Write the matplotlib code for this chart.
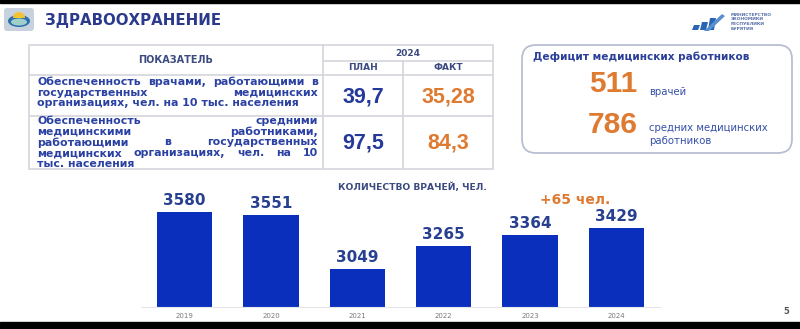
import numpy as np
import matplotlib
matplotlib.use("Agg")
import matplotlib.pyplot as plt
from matplotlib.patches import Rectangle, FancyBboxPatch, Ellipse, Wedge, Polygon

# --- data ---
years = ['2019', '2020', '2021', '2022', '2023', '2024']
doctors = [3580, 3551, 3049, 3265, 3364, 3429]

plan_2024 = [39.7, 97.5]
fact_2024 = [35.28, 84.3]

deficit_values = [511, 786]
deficit_labels = [['врачей'], ['средних медицинских', 'работников']]

row1_lines = ['Обеспеченность врачами, работающими в',
              'государственных медицинских',
              'организациях, чел. на 10 тыс. населения']
row2_lines = ['Обеспеченность средними',
              'медицинскими работниками,',
              'работающими в государственных',
              'медицинских организациях, чел. на 10',
              'тыс. населения']

NAVY = '#24399a'
BAR = '#0b2fbd'
ORANGE = '#df7a31'
GRID = '#d3d6dc'
HEAD = '#3b4a80'

fig = plt.figure(figsize=(8, 3.29), dpi=100, facecolor='white')
ax = fig.add_axes([0, 0, 1, 1])
ax.set_xlim(0, 800); ax.set_ylim(329, 0); ax.axis('off')
r = fig.canvas.get_renderer()

def fmt(v):
	return ('%g' % v).replace('.', ',')

def justified(lines, x0, x1, y0, dy, **kw):
	# spread words over the full line width, last line left aligned
	for i, line in enumerate(lines):
		y = y0 + i * dy
		words = line.split()
		if i == len(lines) - 1 or len(words) == 1:
			ax.text(x0, y, line, ha='left', va='center', **kw)
			continue
		txts = [ax.text(0, y, w, ha='left', va='center', **kw) for w in words]
		widths = [t.get_window_extent(renderer=r).width for t in txts]
		gap = (x1 - x0 - sum(widths)) / (len(words) - 1)
		x = x0
		for t, w in zip(txts, widths):
			t.set_x(x); x += w + gap

# black bands of the screen capture
ax.add_patch(Rectangle((0, 0), 800, 2.5, color='black'))
ax.add_patch(Rectangle((0, 322), 800, 7, color='black'))

# emblem + heading
ax.add_patch(FancyBboxPatch((4, 8), 30, 23, boxstyle='round,pad=0,rounding_size=3', fc='#c8d2de', ec='none'))
ax.add_patch(Ellipse((19, 21), 22, 12, fc='#2f6fb0', ec='none'))
ax.add_patch(Ellipse((19, 22), 16, 7, fc='#9fd0c8', ec='none'))
ax.add_patch(Wedge((19, 18), 6, 180, 360, fc='#f2c230', ec='none'))
ax.text(45, 20, 'ЗДРАВООХРАНЕНИЕ', fontsize=10.8, fontweight='bold', color='#2b3a8c', ha='left', va='center')

# ministry logo
for px, h in [(692, 5), (700, 8), (708, 12)]:
	ax.add_patch(Polygon([[px, 30], [px + 6, 30], [px + 8, 30 - h], [px + 2, 30 - h]], fc='#2a64b4', ec='none'))
ax.add_patch(Polygon([[704, 31], [722, 14], [725, 16], [709, 31]], fc='#5a8fd0', ec='none'))
for i, w in enumerate(['МИНИСТЕРСТВО', 'ЭКОНОМИКИ', 'РЕСПУБЛИКИ', 'БУРЯТИЯ']):
	ax.text(731, 15 + i * 4.5, w, fontsize=3.2, fontweight='bold', color='#5570a8', ha='left', va='center')

# table grid
tx0, tx1, tx2, tx3 = 29, 323, 403, 493
ty0, ty1, ty2, ty3, ty4 = 45, 61, 75, 116, 169
ax.add_patch(Rectangle((tx0, ty0), tx3 - tx0, ty4 - ty0, fc='none', ec=GRID, lw=1.2))
ax.plot([tx1, tx1], [ty0, ty4], color=GRID, lw=1.2)
ax.plot([tx2, tx2], [ty1, ty4], color=GRID, lw=1.2)
ax.plot([tx1, tx3], [ty1, ty1], color=GRID, lw=1.2)
for yy in (ty2, ty3):
	ax.plot([tx0, tx3], [yy, yy], color=GRID, lw=1.2)

ax.text((tx0 + tx1) / 2, 60, 'ПОКАЗАТЕЛЬ', fontsize=7, fontweight='bold', color=HEAD, ha='center', va='center')
ax.text((tx1 + tx3) / 2, 53, '2024', fontsize=6.5, fontweight='bold', color=HEAD, ha='center', va='center')
ax.text((tx1 + tx2) / 2, 68, 'ПЛАН', fontsize=6.5, fontweight='bold', color=HEAD, ha='center', va='center')
ax.text((tx2 + tx3) / 2, 68, 'ФАКТ', fontsize=6.5, fontweight='bold', color=HEAD, ha='center', va='center')

txt_kw = dict(fontsize=7.9, fontweight='bold', color='#2a41a3')
justified(row1_lines, 37, 318, 82, 10.5, **txt_kw)
justified(row2_lines, 37, 318, 121, 10.7, **txt_kw)

for i, yc in enumerate([(ty2 + ty3) / 2 + 1, (ty3 + ty4) / 2]):
	ax.text((tx1 + tx2) / 2, yc, fmt(plan_2024[i]), fontsize=15.5, fontweight='bold',
		family='Liberation Sans', color=NAVY, ha='center', va='center')
	ax.text((tx2 + tx3) / 2, yc, fmt(fact_2024[i]), fontsize=15.5, fontweight='bold',
		family='Liberation Sans', color=ORANGE, ha='center', va='center')

# deficit box
ax.add_patch(FancyBboxPatch((522, 45), 270, 108, boxstyle='round,pad=0,rounding_size=14',
	fc='white', ec='#b9bed2', lw=1.3))
ax.text(533, 57, 'Дефицит медицинских работников', fontsize=7.6, fontweight='bold',
	color='#2b3f98', ha='left', va='center')
for i, yc in enumerate([84, 125]):
	ax.text(613, yc, str(deficit_values[i]), fontsize=21.5, fontweight='bold',
		family='Liberation Sans', color=ORANGE, ha='center', va='center')
	for j, lab in enumerate(deficit_labels[i]):
		ax.text(649, yc + (8 if i == 0 else 3) + j * 12.5, lab, fontsize=7.3,
			color='#3550a8', ha='left', va='center')

# bar chart of doctors
ybot, ytop = 2695, 3700
px_per_unit = 0.1073
h = (ytop - ybot) * px_per_unit
bx = fig.add_axes([141.3 / 800, (329 - 307) / 329, 518.4 / 800, h / 329])
xpos = np.arange(len(years))
bars = bx.bar(xpos, doctors, width=0.64, color=BAR, bottom=0)
bx.set_xlim(-0.5, len(years) - 0.5); bx.set_ylim(ybot, ytop)
for s in ['top', 'right', 'left']:
	bx.spines[s].set_visible(False)
bx.spines['bottom'].set_color('#e4e6ea')
bx.set_yticks([])
bx.set_xticks(xpos); bx.set_xticklabels(years, fontsize=5, color='#7a7a7a')
bx.tick_params(axis='x', length=0, pad=4)
bx.patch.set_alpha(0)
for x, v in zip(xpos, doctors):
	bx.annotate(str(v), xy=(x, v), xytext=(0, 3), textcoords='offset points', ha='center', va='bottom',
		fontsize=11, fontweight='bold', color='#27408f', annotation_clip=False)
bx.annotate('+%d чел.' % (doctors[-1] - doctors[-2]), xy=(4.52, doctors[-1]), xytext=(0, 15),
	textcoords='offset points', ha='center', va='bottom', fontsize=10, fontweight='bold',
	color=ORANGE, annotation_clip=False)

ax.text(412, 187, 'КОЛИЧЕСТВО ВРАЧЕЙ, ЧЕЛ.', fontsize=6.6, fontweight='bold', color=HEAD,
	ha='center', va='center')
ax.text(786, 311, '5', fontsize=6, fontweight='bold', color='#555555', ha='center', va='center')

fig.savefig('out.png', dpi=100, facecolor='white')
